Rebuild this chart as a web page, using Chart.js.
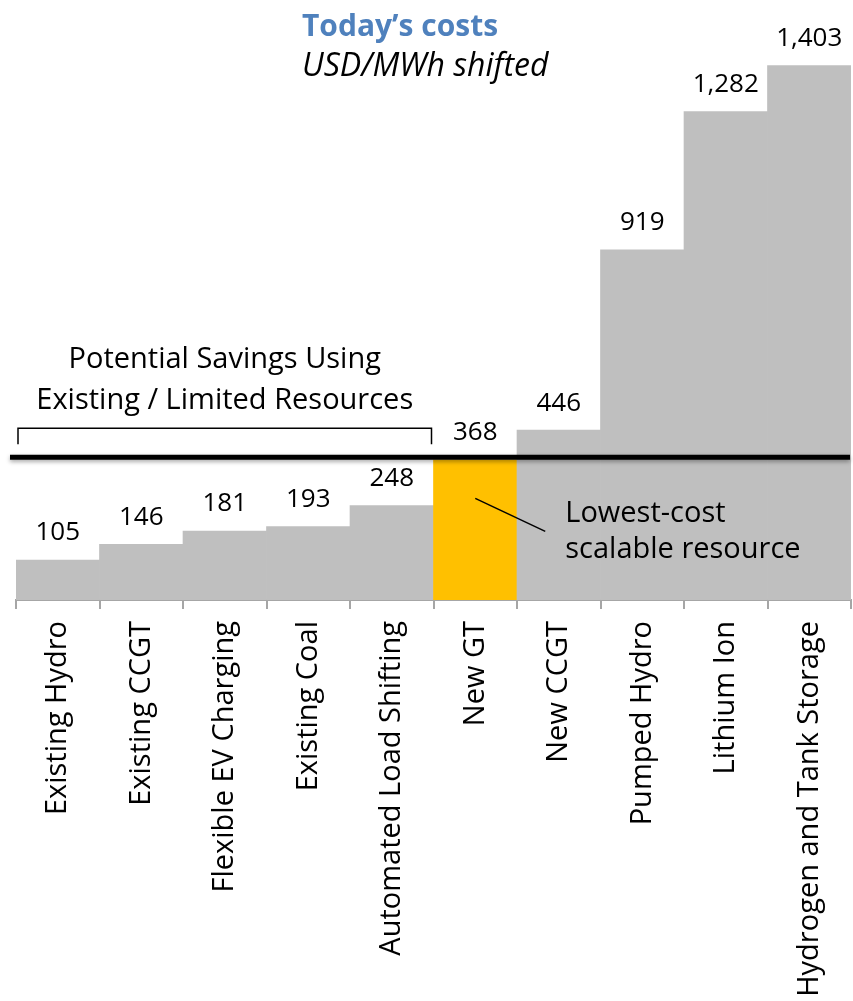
<!DOCTYPE html>
<html>
<head>
<meta charset="utf-8">
<title>Today's costs</title>
<script src="https://cdn.jsdelivr.net/npm/chart.js@4.4.1/dist/chart.umd.min.js"></script>
<style>
  html, body { margin: 0; padding: 0; background: #fff; }
</style>
</head>
<body>
<canvas id="costChart" width="853" height="1001"></canvas>
<script>
// Shifting cost per resource, USD/MWh shifted
const resources = ['Existing Hydro', 'Existing CCGT', 'Flexible EV Charging', 'Existing Coal',
  'Automated Load Shifting', 'New GT', 'New CCGT', 'Pumped Hydro', 'Lithium Ion',
  'Hydrogen and Tank Storage'];
const costs = [105, 146, 181, 193, 248, 368, 446, 919, 1282, 1403];
const benchmarkResource = 'New GT';
const limitedResources = ['Existing Hydro', 'Existing CCGT', 'Flexible EV Charging', 'Existing Coal',
  'Automated Load Shifting'];

const FONT = '"Open Sans", sans-serif';
const GREY = '#bfbfbf';
const ORANGE = '#ffc000';

const benchIdx = resources.indexOf(benchmarkResource);
const barColors = resources.map((r, i) => i === benchIdx ? ORANGE : GREY);

// value labels, benchmark line, bracket, callout and heading
const overlayPlugin = {
  id: 'overlay',
  afterDatasetsDraw(chart) {
    const ctx = chart.ctx;
    const meta = chart.getDatasetMeta(0);
    const y = chart.scales.y;
    ctx.save();

    // values above each bar
    ctx.fillStyle = '#000';
    ctx.font = '26px ' + FONT;
    ctx.textAlign = 'center';
    ctx.textBaseline = 'bottom';
    meta.data.forEach((bar, i) => {
      ctx.fillText(costs[i].toLocaleString('en-US'), bar.x, bar.y - 14);
    });

    // thick line at the lowest scalable cost
    const lineY = y.getPixelForValue(costs[benchIdx]) - 2.5;
    ctx.save();
    ctx.shadowColor = 'rgba(0,0,0,0.35)';
    ctx.shadowBlur = 4;
    ctx.shadowOffsetY = 2;
    ctx.strokeStyle = '#000';
    ctx.lineWidth = 5;
    ctx.beginPath();
    ctx.moveTo(10, lineY);
    ctx.lineTo(850, lineY);
    ctx.stroke();
    ctx.restore();

    // bracket over the existing / limited resources
    const first = meta.data[resources.indexOf(limitedResources[0])];
    const last = meta.data[resources.indexOf(limitedResources[limitedResources.length - 1])];
    const bx0 = first.x - first.width / 2 + 2;
    const bx1 = last.x + last.width / 2 - 2;
    const by = lineY - 29;
    ctx.strokeStyle = '#000';
    ctx.lineWidth = 1.5;
    ctx.beginPath();
    ctx.moveTo(bx0, by + 16);
    ctx.lineTo(bx0, by);
    ctx.lineTo(bx1, by);
    ctx.lineTo(bx1, by + 16);
    ctx.stroke();

    ctx.font = '29px ' + FONT;
    ctx.textBaseline = 'middle';
    ctx.fillText('Potential Savings Using', (bx0 + bx1) / 2, by - 69);
    ctx.fillText('Existing / Limited Resources', (bx0 + bx1) / 2, by - 28);

    // callout for the benchmark bar
    const gt = meta.data[benchIdx];
    ctx.lineWidth = 1.5;
    ctx.beginPath();
    ctx.moveTo(gt.x, lineY + 41);
    ctx.lineTo(gt.x + 70, lineY + 74);
    ctx.stroke();
    ctx.textAlign = 'left';
    ctx.fillText('Lowest-cost', gt.x + 90, lineY + 56);
    ctx.fillText('scalable resource', gt.x + 90, lineY + 92);

    // heading
    ctx.fillStyle = '#4f81bd';
    ctx.font = 'bold 30px ' + FONT;
    ctx.fillText('Today\u2019s costs', 302, 27);
    ctx.fillStyle = '#000';
    ctx.font = 'italic 32px ' + FONT;
    ctx.fillText('USD/MWh shifted', 302, 67);

    ctx.restore();
  }
};

const ctx = document.getElementById('costChart').getContext('2d');
const costChart = new Chart(ctx, {
  type: 'bar',
  data: {
    labels: resources,
    datasets: [{
      label: 'USD/MWh shifted',
      data: costs,
      backgroundColor: barColors,
      borderWidth: 0,
      barPercentage: 1,
      categoryPercentage: 1
    }]
  },
  options: {
    responsive: false,
    animation: false,
    devicePixelRatio: 1,
    layout: { padding: { left: 16, right: 2, top: 0, bottom: 0 } },
    plugins: {
      legend: { display: false },
      tooltip: { enabled: false }
    },
    scales: {
      x: {
        offset: true,
        grid: {
          offset: true,
          drawOnChartArea: false,
          drawTicks: true,
          tickLength: 9,
          color: '#a6a6a6',
          lineWidth: 2
        },
        border: { display: true, color: '#a6a6a6', width: 2 },
        ticks: {
          autoSkip: false,
          minRotation: 90,
          maxRotation: 90,
          padding: 12,
          color: '#000',
          font: { family: FONT, size: 29 }
        },
        afterFit(scale) {
          // fixed band for the rotated labels; the outer labels sit inside their bars
          scale.height = 401;
          scale.paddingLeft = 0;
          scale.paddingRight = 0;
        }
      },
      y: {
        display: false,
        min: 0,
        max: 1575
      }
    }
  },
  plugins: [overlayPlugin]
});
</script>
</body>
</html>
